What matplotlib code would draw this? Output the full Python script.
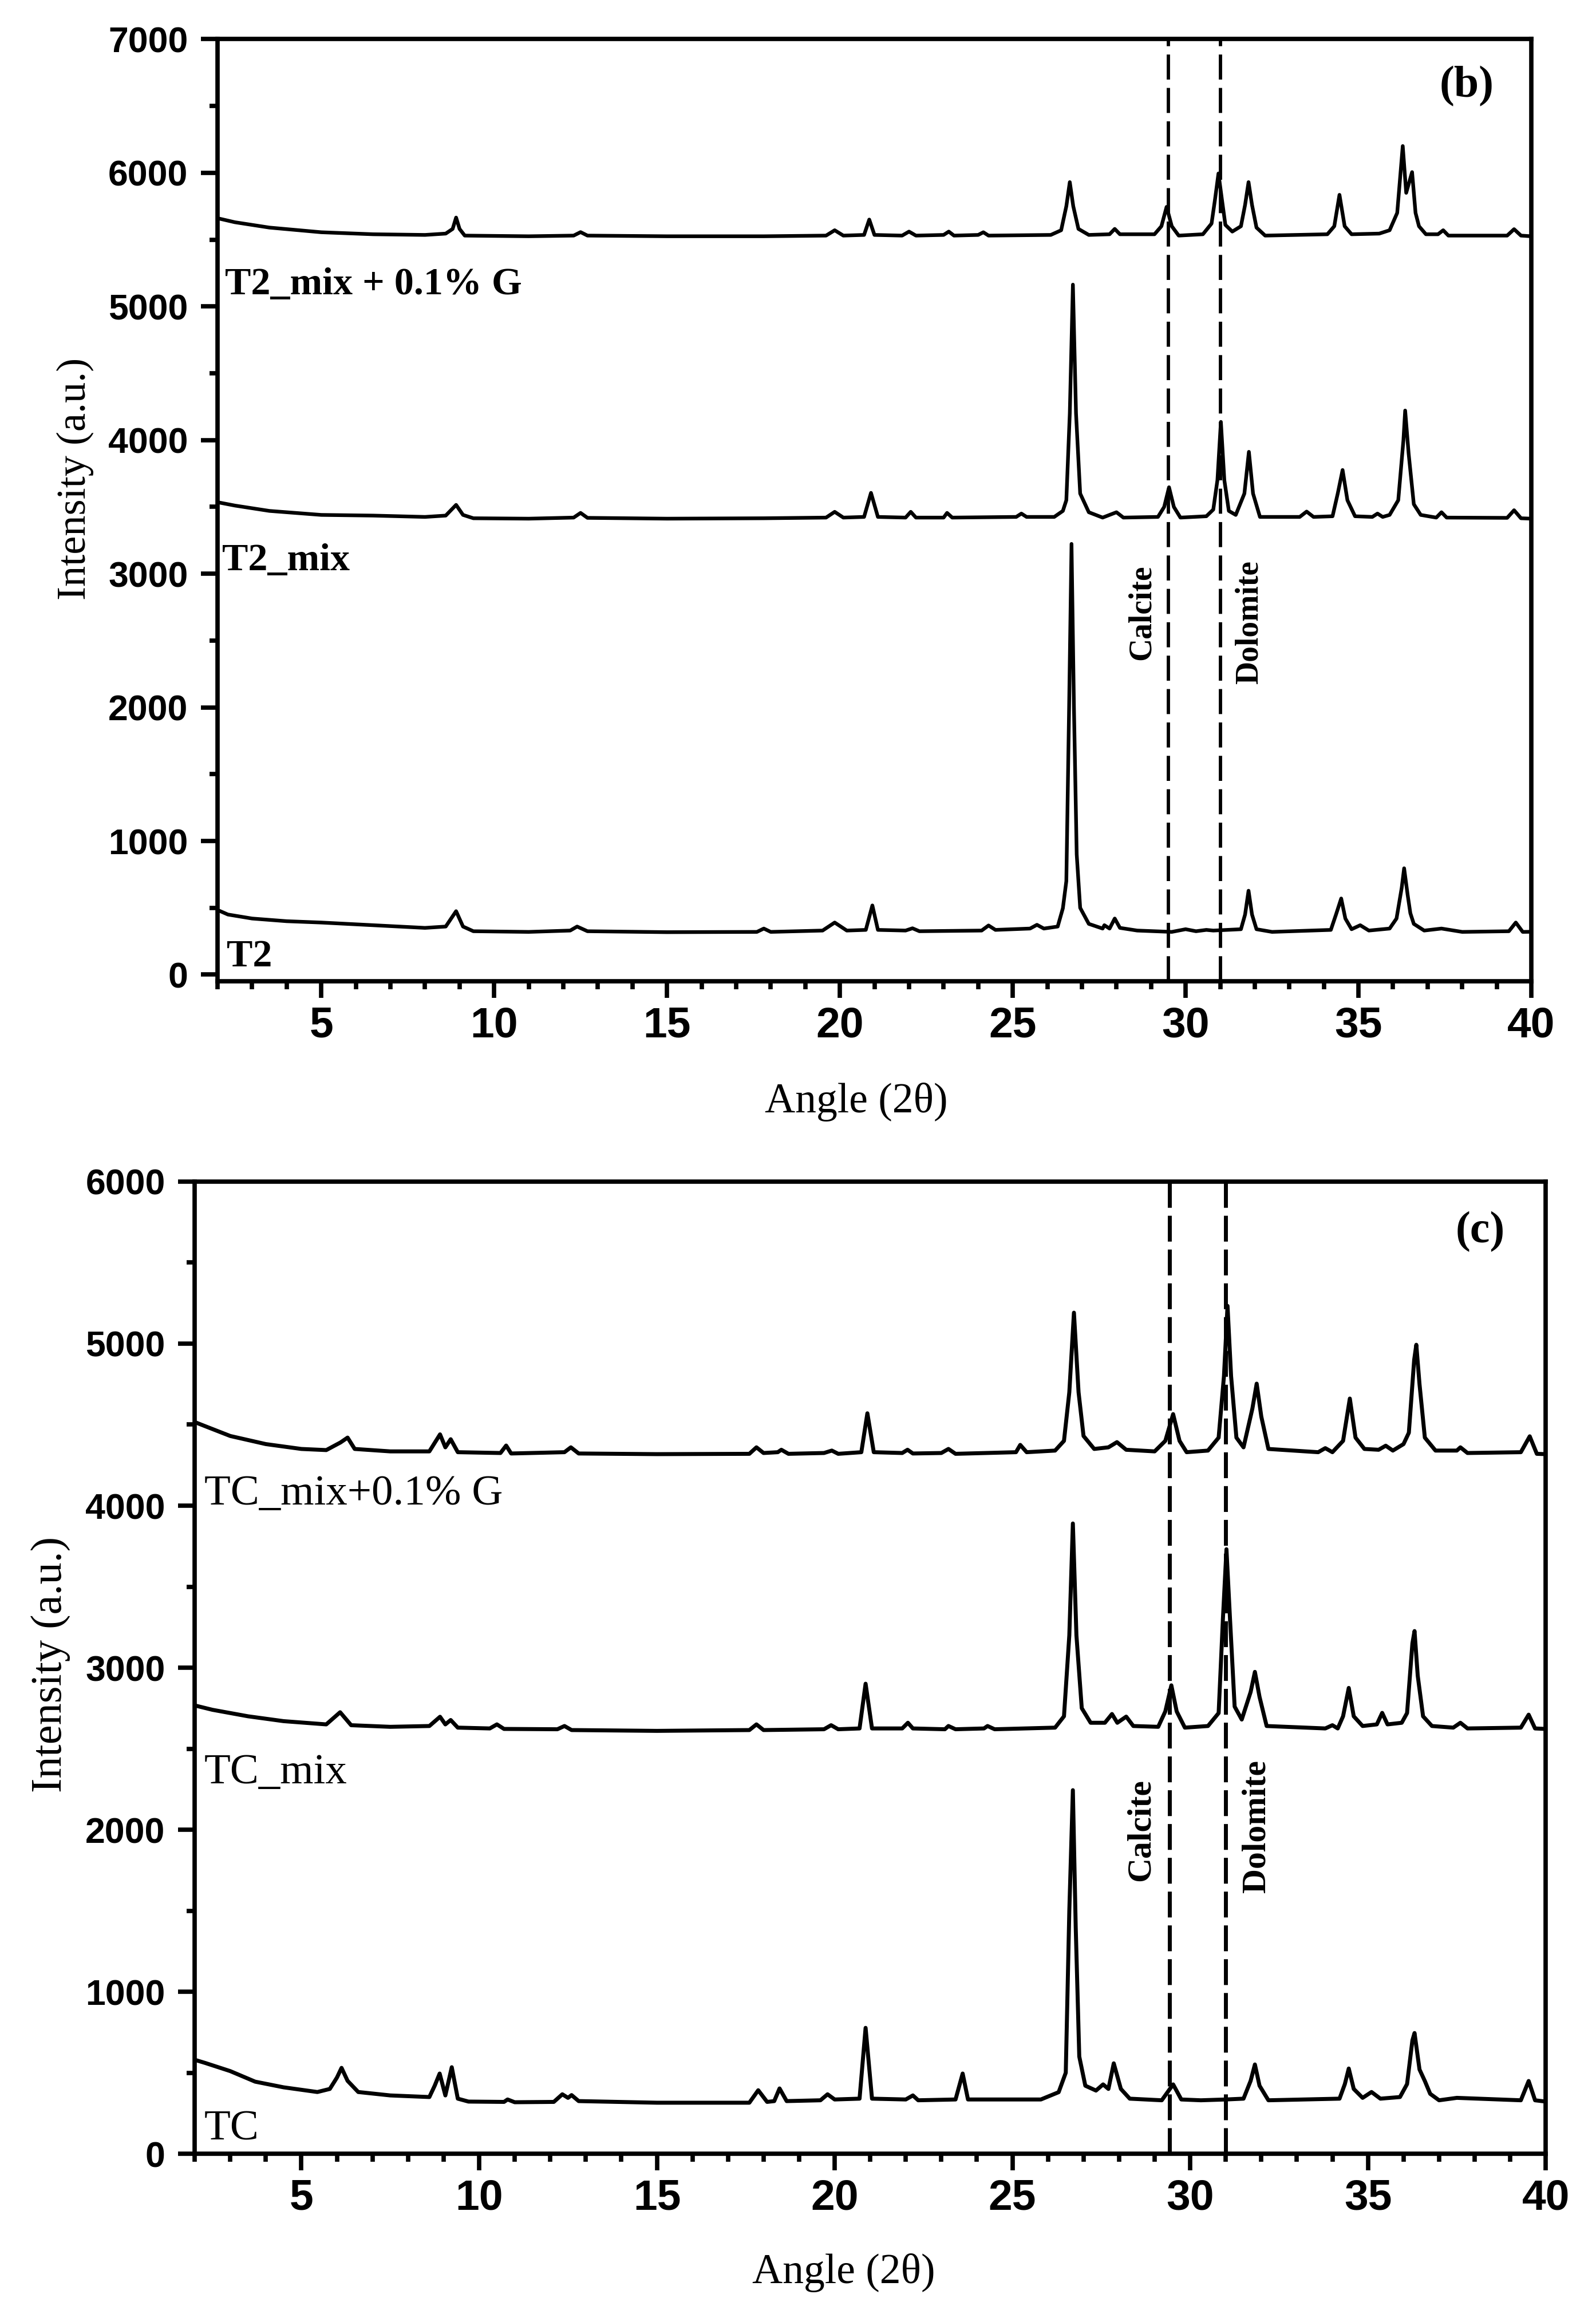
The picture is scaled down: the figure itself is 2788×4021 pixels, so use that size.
import matplotlib
matplotlib.use("Agg")
import matplotlib.pyplot as plt
from matplotlib.ticker import MultipleLocator

# Panel (b) patterns: T2_mix + 0.1% G, T2_mix, T2
t2g_x = [2.0, 2.5, 3.5, 5.0, 6.5, 8.0, 8.6, 8.8, 8.9, 9.0, 9.15, 11.0, 12.3, 12.5, 12.7, 15.0, 17.8,
         19.6, 19.85, 20.1, 20.7, 20.85, 21.0, 21.8, 22.0, 22.2, 23.0, 23.15, 23.3, 24.0, 24.15, 24.3,
         26.1, 26.4, 26.55, 26.65, 26.75, 26.9, 27.2, 27.8, 27.95, 28.1, 29.1, 29.3, 29.45, 29.6, 29.8,
         30.5, 30.75, 30.85, 30.95, 31.05, 31.15, 31.35, 31.6, 31.72, 31.82, 31.92, 32.05, 32.3,
         34.1, 34.3, 34.45, 34.6, 34.8, 35.6, 35.9, 36.12, 36.28, 36.38, 36.55, 36.65, 36.75, 36.95,
         37.3, 37.45, 37.6, 39.3, 39.5, 39.7, 40.0]
t2g_y = [5660, 5630, 5590, 5555, 5540, 5535, 5545, 5580, 5665, 5580, 5530, 5525, 5530, 5556, 5530, 5525, 5525,
         5530, 5570, 5530, 5535, 5650, 5535, 5530, 5560, 5530, 5535, 5560, 5530, 5535, 5555, 5530,
         5535, 5570, 5750, 5930, 5750, 5580, 5535, 5540, 5580, 5540, 5540, 5600, 5745, 5600, 5530,
         5540, 5620, 5800, 5995, 5800, 5610, 5560, 5600, 5760, 5930, 5760, 5590, 5530,
         5540, 5600, 5835, 5600, 5540, 5545, 5570, 5700, 6200, 5850, 6005, 5700, 5600, 5540,
         5540, 5570, 5530, 5530, 5578, 5530, 5525]

t2m_x = [2.0, 2.5, 3.5, 5.0, 6.5, 8.0, 8.6, 8.9, 9.1, 9.4, 11.0, 12.3, 12.5, 12.7, 15.0, 17.8,
         19.6, 19.85, 20.1, 20.7, 20.9, 21.1, 21.9, 22.05, 22.2, 23.0, 23.1, 23.25, 25.1, 25.25, 25.4,
         26.2, 26.45, 26.55, 26.65, 26.74, 26.83, 26.95, 27.2, 27.6, 28.0, 28.2, 29.2, 29.38, 29.52,
         29.66, 29.85, 30.6, 30.8, 30.92, 31.02, 31.12, 31.25, 31.45, 31.7, 31.83, 31.95, 32.15,
         33.3, 33.5, 33.7, 34.25, 34.4, 34.54, 34.68, 34.9, 35.4, 35.55, 35.7, 35.9, 36.15, 36.3,
         36.35, 36.45, 36.6, 36.8, 37.25, 37.4, 37.55, 39.3, 39.5, 39.7, 40.0]
t2m_y = [3535, 3510, 3470, 3440, 3435, 3425, 3435, 3515, 3440, 3415, 3412, 3420, 3455, 3418, 3412, 3415,
         3420, 3463, 3420, 3425, 3605, 3425, 3420, 3463, 3420, 3420, 3455, 3420, 3425, 3450, 3425,
         3425, 3470, 3550, 4200, 5163, 4200, 3600, 3460, 3420, 3460, 3420, 3425, 3500, 3647,
         3500, 3420, 3430, 3480, 3700, 4136, 3700, 3470, 3440, 3600, 3912, 3600, 3425,
         3425, 3465, 3425, 3430, 3600, 3776, 3550, 3430, 3425, 3450, 3425, 3440, 3550, 4000,
         4221, 3900, 3520, 3440, 3420, 3460, 3420, 3418, 3475, 3415, 3412]

t2_x = [2.0, 2.3, 3.0, 4.0, 5.0, 6.5, 8.0, 8.6, 8.9, 9.1, 9.4, 11.0, 12.2, 12.4, 12.7, 15.0, 17.6, 17.8, 18.0,
        19.5, 19.85, 20.2, 20.75, 20.94, 21.1, 21.9, 22.1, 22.3, 24.1, 24.3, 24.5, 25.5, 25.7, 25.9,
        26.3, 26.45, 26.55, 26.63, 26.7, 26.77, 26.85, 26.95, 27.2, 27.6, 27.65, 27.8, 27.95, 28.1,
        28.6, 29.6, 30.0, 30.3, 30.6, 30.8, 31.6, 31.72, 31.82, 31.92, 32.05, 32.5, 34.2, 34.35, 34.5,
        34.62, 34.8, 35.05, 35.3, 35.9, 36.1, 36.25, 36.32, 36.42, 36.5, 36.6, 36.9, 37.4, 38.0,
        39.35, 39.55, 39.75, 40.0]
t2_y = [484, 450, 420, 400, 390, 370, 350, 360, 475, 360, 325, 320, 330, 360, 325, 318, 320, 345, 320,
        330, 390, 330, 335, 518, 335, 330, 347, 325, 330, 368, 335, 345, 373, 345,
        360, 497, 700, 2000, 3223, 2000, 900, 500, 380, 345, 370, 345, 420, 350,
        330, 320, 340, 325, 335, 330, 340, 450, 628, 450, 340, 320, 335, 450, 570,
        420, 340, 370, 330, 345, 420, 650, 796, 600, 460, 380, 330, 345, 320,
        325, 390, 320, 321]

# Panel (c) patterns: TC_mix+0.1% G, TC_mix, TC
tcg_x = [2.0, 2.3, 3.0, 4.0, 5.0, 5.7, 6.1, 6.3, 6.5, 7.5, 8.6, 8.9, 9.05, 9.2, 9.4, 10.6, 10.76, 10.9,
         12.4, 12.58, 12.8, 15.0, 17.6, 17.8, 18.0, 18.4, 18.5, 18.7, 19.7, 19.92, 20.1, 20.75, 20.92, 21.1,
         21.9, 22.05, 22.2, 23.0, 23.2, 23.4, 25.1, 25.22, 25.4, 26.2, 26.45, 26.6, 26.73, 26.86, 27.0,
         27.3, 27.7, 27.94, 28.2, 29.0, 29.3, 29.52, 29.7, 29.9, 30.5, 30.8, 30.95, 31.05, 31.15, 31.3,
         31.5, 31.75, 31.87, 32.0, 32.2, 33.6, 33.8, 34.0, 34.3, 34.49, 34.65, 34.9, 35.3, 35.5, 35.7,
         36.0, 36.15, 36.3, 36.36, 36.45, 36.6, 36.9, 37.5, 37.6, 37.8, 39.3, 39.55, 39.75, 40.0]
tcg_y = [4516, 4490, 4430, 4380, 4350, 4343, 4390, 4420, 4350, 4335, 4335, 4440, 4360, 4410, 4330, 4325, 4371, 4322,
         4330, 4360, 4322, 4318, 4320, 4360, 4325, 4330, 4345, 4320, 4325, 4340, 4320, 4330, 4570, 4330,
         4325, 4345, 4322, 4325, 4350, 4320, 4330, 4375, 4330, 4340, 4400, 4700, 5191, 4700, 4430,
         4350, 4360, 4392, 4345, 4335, 4400, 4565, 4400, 4330, 4340, 4420, 4800, 5233, 4800, 4420,
         4360, 4600, 4753, 4550, 4350, 4330, 4355, 4330, 4400, 4661, 4420, 4350, 4345, 4370, 4340,
         4380, 4450, 4900, 4993, 4750, 4420, 4340, 4340, 4360, 4325, 4330, 4428, 4320, 4318]

tcm_x = [2.0, 2.5, 3.5, 4.5, 5.7, 6.09, 6.4, 7.5, 8.6, 8.9, 9.05, 9.2, 9.4, 10.3, 10.5, 10.7, 12.2, 12.4, 12.6,
         15.0, 17.6, 17.8, 18.0, 19.7, 19.9, 20.1, 20.7, 20.87, 21.05, 21.9, 22.06, 22.2, 23.1, 23.2, 23.4,
         24.2, 24.3, 24.5, 26.2, 26.45, 26.6, 26.7, 26.8, 26.95, 27.2, 27.6, 27.8, 27.95, 28.2, 28.4,
         29.1, 29.3, 29.47, 29.62, 29.85, 30.5, 30.8, 30.92, 31.02, 31.12, 31.25, 31.45, 31.7, 31.82,
         31.95, 32.15, 33.8, 34.0, 34.15, 34.3, 34.46, 34.6, 34.85, 35.25, 35.4, 35.55, 35.95, 36.1,
         36.25, 36.31, 36.4, 36.55, 36.8, 37.4, 37.6, 37.8, 39.3, 39.52, 39.7, 40.0]
tcm_y = [2767, 2740, 2700, 2670, 2650, 2725, 2645, 2635, 2640, 2697, 2650, 2677, 2630, 2625, 2650, 2622, 2620, 2640, 2615,
         2610, 2615, 2650, 2615, 2620, 2645, 2620, 2625, 2901, 2625, 2625, 2660, 2625, 2620, 2640, 2620,
         2625, 2640, 2620, 2630, 2700, 3200, 3890, 3200, 2750, 2660, 2660, 2714, 2660, 2698, 2640,
         2635, 2730, 2891, 2730, 2630, 2640, 2720, 3300, 3731, 3300, 2760, 2680, 2850, 2974,
         2820, 2640, 2625, 2645, 2625, 2700, 2875, 2700, 2640, 2650, 2721, 2650, 2660, 2720,
         3150, 3226, 2950, 2700, 2640, 2630, 2660, 2625, 2630, 2710, 2625, 2622]

tc_x = [2.0, 2.3, 3.0, 3.7, 4.5, 5.45, 5.8, 6.0, 6.13, 6.3, 6.6, 7.5, 8.6, 8.75, 8.89, 9.05, 9.23, 9.4, 9.7,
        10.7, 10.8, 11.0, 12.1, 12.34, 12.5, 12.6, 12.8, 15.0, 17.6, 17.85, 18.1, 18.3, 18.45, 18.65,
        19.6, 19.8, 20.0, 20.7, 20.87, 21.05, 22.0, 22.2, 22.35, 23.4, 23.6, 23.75, 25.8, 26.3, 26.5,
        26.6, 26.7, 26.78, 26.88, 27.05, 27.35, 27.55, 27.7, 27.85, 28.05, 28.3, 29.2, 29.52, 29.75,
        30.3, 31.0, 31.5, 31.7, 31.82, 31.95, 32.2, 34.2, 34.35, 34.46, 34.6, 34.85, 35.1, 35.35,
        35.9, 36.1, 36.25, 36.31, 36.45, 36.6, 36.75, 37.0, 37.5, 39.3, 39.52, 39.7, 40.0]
tc_y = [580, 560, 510, 445, 410, 381, 400, 470, 530, 450, 381, 360, 350, 420, 495, 360, 534, 340, 322,
        320, 335, 318, 320, 367, 345, 362, 325, 315, 315, 392, 320, 325, 403, 325,
        330, 367, 335, 340, 777, 340, 335, 360, 330, 335, 495, 335, 335, 380, 500,
        1500, 2244, 1400, 600, 420, 390, 428, 400, 558, 400, 340, 330, 428, 335,
        330, 335, 340, 450, 551, 420, 330, 340, 430, 526, 400, 345, 381, 340,
        350, 430, 700, 745, 520, 449, 370, 330, 345, 330, 449, 330, 322]

calcite_b, dolomite_b = 29.5, 31.0
calcite_c, dolomite_c = 29.42, 31.0

serif = ["Liberation Serif", "DejaVu Serif"]
sans = ["Liberation Sans", "DejaVu Sans"]

fig = plt.figure(figsize=(27.88, 40.21), dpi=100)
ax1 = fig.add_axes([0.1363, 0.5737, 0.8232, 0.4093])
ax2 = fig.add_axes([0.1220, 0.0644, 0.8465, 0.4223])


def style_axes(ax, ymax, ybottom):
    ax.set_xlim(2, 40)
    ax.set_ylim(ybottom, ymax)
    ax.xaxis.set_major_locator(MultipleLocator(5))
    ax.xaxis.set_minor_locator(MultipleLocator(1))
    ax.yaxis.set_major_locator(MultipleLocator(1000))
    ax.yaxis.set_minor_locator(MultipleLocator(500))
    for s in ax.spines.values():
        s.set_linewidth(5.5)
    ax.tick_params(which="both", direction="out", width=5.5, top=False, right=False)
    ax.tick_params(which="major", length=21)
    ax.tick_params(which="minor", length=10)
    ax.tick_params(axis="x", which="major", labelsize=54, pad=10)
    ax.tick_params(axis="y", which="major", labelsize=45, pad=16)
    for lab in ax.get_xticklabels() + ax.get_yticklabels():
        lab.set_family(sans)
        lab.set_fontweight("bold")


style_axes(ax1, 7000, -50)
style_axes(ax2, 6000, 0)

for x, y in [(t2g_x, t2g_y), (t2m_x, t2m_y), (t2_x, t2_y)]:
    ax1.plot(x, y, color="black", linewidth=4.6, solid_joinstyle="round")
for x, y in [(tcg_x, tcg_y), (tcm_x, tcm_y), (tc_x, tc_y)]:
    ax2.plot(x, y, color="black", linewidth=5, solid_joinstyle="round")

for xv in (calcite_b, dolomite_b):
    ax1.axvline(xv, color="black", linewidth=4.2, linestyle=(0, (7.5, 2.5)))
for xv in (calcite_c, dolomite_c):
    ax2.axvline(xv, color="black", linewidth=5, linestyle=(0, (6.5, 2.0)))

# curve labels
ax1.text(2.21, 5090, "T2_mix + 0.1% G", family=serif, fontsize=49, fontweight="bold", va="baseline")
ax1.text(2.13, 3027, "T2_mix", family=serif, fontsize=49, fontweight="bold", va="baseline")
ax1.text(2.26, 60, "T2", family=serif, fontsize=49, fontweight="bold", va="baseline")
ax2.text(2.27, 4007, "TC_mix+0.1% G", family=serif, fontsize=54, va="baseline")
ax2.text(2.27, 2286, "TC_mix", family=serif, fontsize=54, va="baseline")
ax2.text(2.27, 88, "TC", family=serif, fontsize=54, va="baseline")

ax1.text(38.13, 6648, "(b)", family=serif, fontsize=56, fontweight="bold", ha="center", va="center")
ax2.text(38.16, 5689, "(c)", family=serif, fontsize=56, fontweight="bold", ha="center", va="center")

ax1.text(28.74, 2354, "Calcite", family=serif, fontsize=40, fontweight="bold", rotation=90, ha="center", va="bottom")
ax1.text(31.85, 2175, "Dolomite", family=serif, fontsize=40, fontweight="bold", rotation=90, ha="center", va="bottom")
ax2.text(28.62, 1682, "Calcite", family=serif, fontsize=43, fontweight="bold", rotation=90, ha="center", va="bottom")
ax2.text(31.88, 1611, "Dolomite", family=serif, fontsize=43, fontweight="bold", rotation=90, ha="center", va="bottom")

# axis titles
fig.text(0.047, 0.792, "Intensity (a.u.)", family=serif, fontsize=52, rotation=90, ha="center", va="center")
fig.text(0.0316, 0.277, "Intensity (a.u.)", family=serif, fontsize=55, rotation=90, ha="center", va="center")
fig.text(0.5366, 1 - 1925 / 4021, "Angle (2θ)", family=serif, fontsize=53, ha="center", va="center")
fig.text(0.5287, 1 - 3970 / 4021, "Angle (2θ)", family=serif, fontsize=53, ha="center", va="center")

fig.savefig("out.png", dpi=100, facecolor="white")
